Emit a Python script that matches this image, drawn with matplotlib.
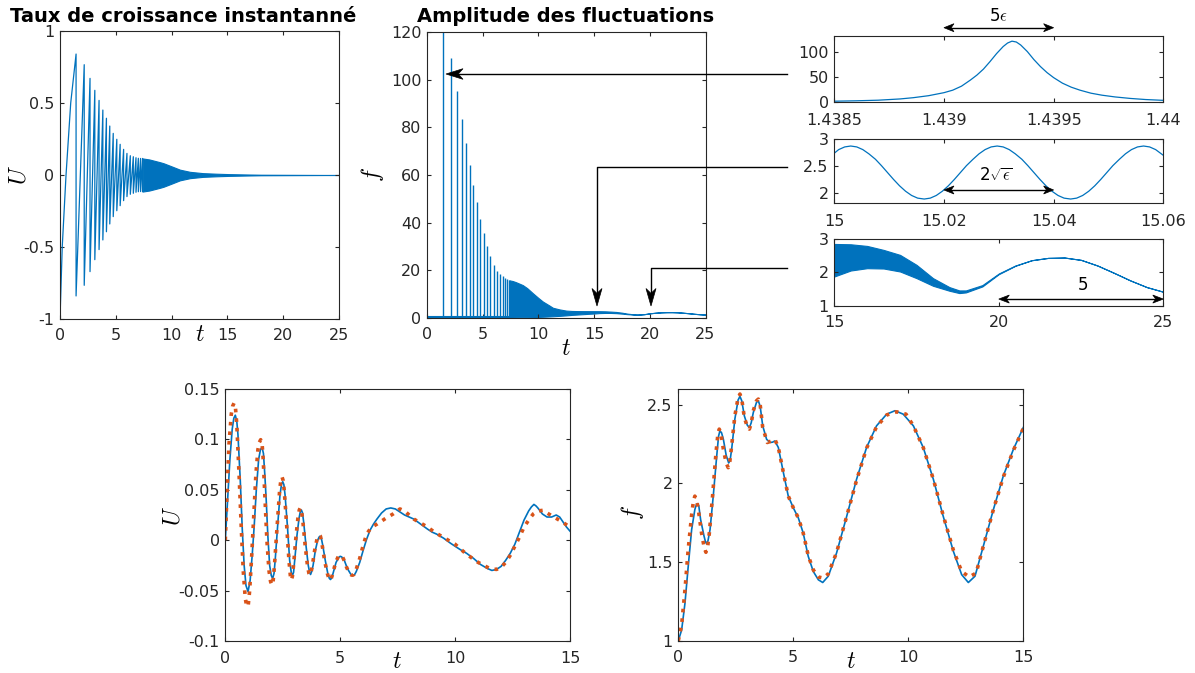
import numpy as np
import matplotlib
matplotlib.use('Agg')
import matplotlib.pyplot as plt
from matplotlib.ticker import FuncFormatter, FixedLocator
from matplotlib.patches import Polygon
from matplotlib.lines import Line2D

plt.rcParams['font.family'] = ['DejaVu Sans']
plt.rcParams['mathtext.fontset'] = 'cm'
plt.rcParams['axes.unicode_minus'] = False

W, H = 1195, 673
BLUE = '#0072BD'
ORANGE = '#D95319'
AXC = '#262626'

# ---------------- data ----------------
# growth rate U: first rise, then sawtooth spikes
u_start_t = [0.0, 0.20, 0.54, 0.96]
u_start_v = [-1.0, -0.5, 0.0, 0.5]
spike_t = [1.44, 2.17, 2.69, 3.12, 3.50, 3.84, 4.16, 4.46, 4.77, 5.09,
           5.39, 5.70, 6.00, 6.30, 6.57, 6.81, 7.02, 7.22, 7.40]
u_amp = [0.840, 0.766, 0.671, 0.588, 0.518, 0.451, 0.394, 0.340, 0.289, 0.248,
         0.213, 0.178, 0.150, 0.134, 0.127, 0.120, 0.116, 0.115, 0.115]
# dense oscillation envelope of U
ub_t = [7.40, 8.0, 9.0, 9.3, 10.0, 10.75, 11.65, 12.8, 14.0, 15.2, 16.5, 18.0, 25.0]
ub_a = [0.115, 0.108, 0.088, 0.081, 0.060, 0.037, 0.022, 0.013, 0.009, 0.006, 0.004, 0.002, 0.0]

# amplitude f: spike heights and floor
f_spike_h = [120.7, 109.0, 95.4, 83.6, 73.4, 64.2, 55.8, 48.5, 41.7, 35.5,
             30.2, 26.0, 22.4, 19.7, 18.5, 17.5, 16.8, 16.2, 15.8]
f_floor_t = [0.0, 7.40]
f_floor_v = [0.3, 0.3]
# dense oscillation envelope of f
env_t = [7.40, 7.70, 8.00, 8.60, 9.00, 9.50, 10.0, 10.4, 11.0, 11.3, 11.9, 12.5, 13.0,
         13.5, 14.0, 14.5, 15.0, 15.5, 16.0, 16.5, 17.0, 17.5, 18.0, 18.5, 18.8, 19.0,
         19.5, 20.0, 20.5, 21.0, 21.5, 22.0, 22.5, 23.0, 23.5, 24.0, 24.5, 25.0]
env_hi = [15.8, 15.5, 15.0, 13.8, 12.5, 10.4, 8.4, 6.9, 5.2, 4.3, 3.6, 3.1, 2.95,
          2.9, 2.88, 2.87, 2.86, 2.85, 2.80, 2.68, 2.53, 2.23, 1.83, 1.56, 1.46, 1.46,
          1.62, 1.97, 2.21, 2.37, 2.44, 2.45, 2.38, 2.21, 1.99, 1.76, 1.56, 1.42]
env_lo = [0.20, 0.22, 0.25, 0.30, 0.33, 0.38, 0.45, 0.52, 0.65, 0.72, 0.90, 1.10, 1.30,
          1.45, 1.60, 1.75, 1.88, 2.06, 2.13, 2.12, 2.03, 1.83, 1.60, 1.45, 1.38, 1.40,
          1.58, 1.95, 2.20, 2.37, 2.44, 2.45, 2.38, 2.21, 1.99, 1.76, 1.56, 1.42]

# zoom 1 : single peak
lz_t = [1.43850, 1.43860, 1.43870, 1.43880, 1.43886, 1.43893, 1.43900, 1.43904,
        1.43908, 1.43912, 1.43915, 1.43918, 1.43921, 1.43924, 1.43927, 1.43929,
        1.43931, 1.43933, 1.43935, 1.43938, 1.43941, 1.43944, 1.43947, 1.43950,
        1.43954, 1.43958, 1.43962, 1.43967, 1.43972, 1.43978, 1.43985, 1.43992, 1.44000]
lz_f = [1.0, 1.8, 3.0, 5.5, 8, 12, 18, 23, 31, 43, 53, 65, 80, 96, 110, 117,
        120.7, 119, 113, 100, 84, 70, 58, 48, 37, 29, 23, 17, 13, 9.5, 6.5, 4.3, 2.7]

# zoom 2 : fast oscillation
sn_t = [15.0000, 15.0008, 15.0019, 15.0030, 15.0041, 15.0052, 15.0063, 15.0075,
        15.0086, 15.0097, 15.0108, 15.0119, 15.0130, 15.0141, 15.0152, 15.0164,
        15.0175, 15.0186, 15.0197, 15.0208, 15.0219, 15.0230, 15.0241, 15.0253,
        15.0264, 15.0275, 15.0286, 15.0297, 15.0308, 15.0319, 15.0330, 15.0342,
        15.0353, 15.0364, 15.0375, 15.0386, 15.0397, 15.0408, 15.0419, 15.0431,
        15.0442, 15.0453, 15.0464, 15.0475, 15.0486, 15.0497, 15.0508, 15.0520,
        15.0531, 15.0542, 15.0553, 15.0564, 15.0575, 15.0586, 15.0600]
sn_f = [2.74, 2.807, 2.857, 2.874, 2.857, 2.807, 2.728, 2.626,
        2.506, 2.377, 2.248, 2.128, 2.026, 1.947, 1.897, 1.880,
        1.897, 1.947, 2.026, 2.128, 2.248, 2.377, 2.506, 2.626,
        2.728, 2.807, 2.857, 2.874, 2.857, 2.807, 2.728, 2.626,
        2.506, 2.377, 2.248, 2.128, 2.026, 1.947, 1.897, 1.880,
        1.897, 1.947, 2.026, 2.128, 2.248, 2.377, 2.506, 2.626,
        2.728, 2.807, 2.857, 2.874, 2.857, 2.807, 2.70]

# bottom left : U, full model (blue) and reduced model (orange)
bu_t = [0.00, 0.10, 0.20, 0.30, 0.37, 0.435, 0.50, 0.55, 0.65, 0.74, 0.82, 0.90, 0.99,
        1.08, 1.17, 1.26, 1.35, 1.45, 1.53, 1.60, 1.66, 1.72, 1.78, 1.85, 1.93, 2.00,
        2.06, 2.12, 2.17, 2.28, 2.38, 2.45, 2.50, 2.55, 2.60, 2.70, 2.80, 2.87, 2.92,
        2.97, 3.02, 3.12, 3.21, 3.27, 3.31, 3.36, 3.41, 3.51, 3.61, 3.67, 3.71, 3.76,
        3.82, 3.92, 4.02, 4.08, 4.12, 4.17, 4.24, 4.35, 4.46, 4.53, 4.58, 4.64, 4.70,
        4.82, 4.94, 5.00, 5.06, 5.12, 5.18, 5.31, 5.44, 5.51, 5.57, 5.63, 5.70, 5.85,
        6.00, 6.15, 6.30, 6.45, 6.60, 6.80, 7.00, 7.20, 7.40, 7.60, 7.80, 8.00, 8.20,
        8.50, 8.80, 9.00, 9.20, 9.50, 9.80, 10.2, 10.5, 10.8, 11.1, 11.4, 11.6, 11.8,
        12.0, 12.2, 12.4, 12.6, 12.8, 13.0, 13.2, 13.32, 13.43, 13.52, 13.6, 13.8,
        14.0, 14.2, 14.4, 14.55, 14.7, 14.85, 15.0]
bu_v = [0.000, 0.040, 0.080, 0.110, 0.121, 0.124, 0.118, 0.105, 0.060, 0.010, -0.025,
        -0.045, -0.051, -0.040, -0.015, 0.015, 0.050, 0.080, 0.090, 0.092, 0.086, 0.065,
        0.040, 0.005, -0.025, -0.035, -0.038, -0.033, -0.020, 0.015, 0.045, 0.056, 0.058,
        0.055, 0.045, 0.015, -0.020, -0.032, -0.035, -0.032, -0.020, 0.005, 0.022, 0.029,
        0.030, 0.027, 0.018, -0.005, -0.025, -0.032, -0.034, -0.031, -0.025, -0.010,
        0.000, 0.003, 0.004, 0.003, -0.005, -0.020, -0.033, -0.038, -0.039, -0.037,
        -0.032, -0.022, -0.017, -0.016, -0.0165, -0.018, -0.020, -0.028, -0.033, -0.035,
        -0.035, -0.034, -0.031, -0.022, -0.010, 0.001, 0.010, 0.016, 0.021, 0.027, 0.031,
        0.032, 0.031, 0.028, 0.025, 0.023, 0.021, 0.016, 0.011, 0.008, 0.006, 0.002,
        -0.003, -0.009, -0.013, -0.018, -0.024, -0.028, -0.030, -0.029, -0.026, -0.020,
        -0.013, -0.004, 0.008, 0.020, 0.029, 0.033, 0.0355, 0.034, 0.032, 0.026, 0.023,
        0.023, 0.025, 0.023, 0.018, 0.013, 0.009]
ru_t = [0.00, 0.08, 0.16, 0.26, 0.32, 0.38, 0.44, 0.50, 0.60, 0.70, 0.78, 0.87, 0.92,
        0.96, 1.00, 1.06, 1.15, 1.24, 1.33, 1.42, 1.48, 1.54, 1.60, 1.65, 1.73, 1.81,
        1.90, 1.97, 2.03, 2.08, 2.14, 2.25, 2.36, 2.42, 2.47, 2.52, 2.57, 2.67, 2.77,
        2.83, 2.87, 2.92, 2.97, 3.07, 3.16, 3.22, 3.26, 3.31, 3.37, 3.47, 3.58, 3.64,
        3.68, 3.73, 3.79, 3.89, 3.99, 4.05, 4.09, 4.14, 4.21, 4.32, 4.44, 4.51, 4.56,
        4.61, 4.68, 4.80, 4.92, 4.98, 5.03, 5.09, 5.15, 5.28, 5.41, 5.48, 5.54, 5.60,
        5.68, 5.85, 6.00, 6.15, 6.30, 6.45, 6.60, 6.80, 7.00, 7.30, 7.60, 7.80, 8.00,
        8.20, 8.50, 8.80, 9.10, 9.40, 9.70, 10.0, 10.5, 11.0, 11.5, 11.8, 12.0, 12.2,
        12.4, 12.6, 12.8, 13.0, 13.2, 13.4, 13.6, 13.84, 14.0, 14.3, 14.6, 15.0]
ru_v = [0.000, 0.050, 0.095, 0.125, 0.133, 0.136, 0.132, 0.115, 0.065, 0.010, -0.030,
        -0.058, -0.064, -0.066, -0.064, -0.050, -0.015, 0.025, 0.065, 0.090, 0.097,
        0.0997, 0.096, 0.080, 0.040, 0.000, -0.030, -0.041, -0.0446, -0.041, -0.025,
        0.012, 0.048, 0.060, 0.0627, 0.059, 0.048, 0.015, -0.020, -0.035, -0.0396, -0.036,
        -0.025, 0.002, 0.022, 0.030, 0.032, 0.030, 0.020, -0.004, -0.026, -0.033, -0.0347,
        -0.032, -0.025, -0.010, 0.001, 0.004, 0.005, 0.004, -0.004, -0.020, -0.033,
        -0.038, -0.0396, -0.038, -0.033, -0.022, -0.016, -0.015, -0.0155, -0.016, -0.019,
        -0.027, -0.033, -0.0345, -0.0347, -0.034, -0.030, -0.018, -0.005, 0.006, 0.011,
        0.014, 0.016, 0.019, 0.022, 0.026, 0.031, 0.029, 0.025, 0.021, 0.017, 0.013,
        0.008, 0.004, 0.000, -0.004, -0.014, -0.022, -0.028, -0.029, -0.027, -0.022,
        -0.015, -0.006, 0.003, 0.013, 0.020, 0.026, 0.029, 0.0297, 0.027, 0.023, 0.019,
        0.013]

# bottom right : f, full model (blue) and reduced model (orange)
bf_t = [0.00, 0.145, 0.29, 0.43, 0.58, 0.72, 0.78, 0.83, 0.89, 0.97, 1.12, 1.18, 1.23,
        1.29, 1.38, 1.52, 1.67, 1.75, 1.81, 1.88, 1.96, 2.08, 2.19, 2.25, 2.32, 2.46,
        2.60, 2.68, 2.76, 2.87, 3.00, 3.09, 3.17, 3.26, 3.40, 3.48, 3.56, 3.67, 3.84,
        3.99, 4.10, 4.20, 4.35, 4.57, 4.78, 5.00, 5.22, 5.43, 5.65, 5.87, 6.09, 6.28,
        6.52, 6.88, 7.32, 7.75, 8.19, 8.62, 9.06, 9.42, 9.78, 10.22, 10.65, 11.09, 11.52,
        11.96, 12.32, 12.61, 12.90, 13.26, 13.70, 14.13, 14.57, 15.0]
bf_v = [1.000, 1.068, 1.238, 1.470, 1.706, 1.834, 1.862, 1.872, 1.858, 1.770, 1.664,
        1.630, 1.617, 1.635, 1.706, 1.920, 2.174, 2.300, 2.334, 2.322, 2.280, 2.180,
        2.130, 2.145, 2.217, 2.410, 2.530, 2.553, 2.525, 2.430, 2.370, 2.355, 2.385,
        2.450, 2.515, 2.525, 2.490, 2.366, 2.280, 2.260, 2.262, 2.270, 2.228, 2.068,
        1.920, 1.845, 1.780, 1.685, 1.536, 1.440, 1.387, 1.370, 1.410, 1.557, 1.790,
        2.026, 2.230, 2.366, 2.440, 2.462, 2.440, 2.366, 2.228, 2.026, 1.790, 1.568,
        1.420, 1.370, 1.410, 1.600, 1.834, 2.047, 2.217, 2.355]
rf_t = [0.00, 0.145, 0.29, 0.43, 0.58, 0.66, 0.72, 0.79, 0.87, 1.01, 1.13, 1.20, 1.27,
        1.35, 1.49, 1.64, 1.72, 1.78, 1.85, 1.96, 2.08, 2.17, 2.24, 2.32, 2.46, 2.60,
        2.68, 2.76, 2.87, 3.00, 3.09, 3.17, 3.26, 3.40, 3.48, 3.56, 3.67, 3.87, 4.06,
        4.20, 4.35, 4.57, 4.78, 5.00, 5.22, 5.43, 5.65, 5.87, 6.09, 6.30, 6.52, 6.88,
        7.32, 7.75, 8.19, 8.62, 9.06, 9.50, 9.90, 10.22, 10.65, 11.09, 11.52, 11.96,
        12.32, 12.65, 12.95, 13.26, 13.70, 14.13, 14.57, 15.0]
rf_v = [1.000, 1.100, 1.323, 1.579, 1.800, 1.890, 1.919, 1.900, 1.834, 1.685, 1.590,
        1.562, 1.590, 1.685, 1.919, 2.196, 2.310, 2.345, 2.320, 2.217, 2.130, 2.100,
        2.140, 2.238, 2.430, 2.545, 2.568, 2.535, 2.420, 2.360, 2.345, 2.380, 2.462,
        2.525, 2.536, 2.500, 2.355, 2.260, 2.270, 2.280, 2.228, 2.068, 1.920, 1.845,
        1.780, 1.685, 1.540, 1.450, 1.405, 1.398, 1.425, 1.560, 1.790, 2.020, 2.225,
        2.360, 2.435, 2.455, 2.440, 2.366, 2.228, 2.026, 1.795, 1.575, 1.440, 1.405,
        1.430, 1.600, 1.834, 2.040, 2.210, 2.350]

# ---------------- figure ----------------
fig = plt.figure(figsize=(W / 100, H / 100), dpi=100)
fmt = FuncFormatter(lambda v, p: f'{v:g}')


def add_ax(l, r, t, b, xpad=6.5):
    ax = fig.add_axes([l / W, 1 - b / H, (r - l) / W, (b - t) / H])
    ax.tick_params(direction='in', top=True, right=True, length=3, width=0.8,
                   colors=AXC, labelsize=11.5, pad=4)
    ax.tick_params(axis='x', pad=xpad)
    for s in ax.spines.values():
        s.set_color(AXC)
        s.set_linewidth(0.8)
    ax.xaxis.set_major_formatter(fmt)
    ax.yaxis.set_major_formatter(fmt)
    return ax


def P(x, y):
    return (x / W, 1 - y / H)


def ftext(x, y, s, **kw):
    fig.text(x / W, 1 - y / H, s, ha='center', va='center', color='black', **kw)


def head(tip, d, L, w):
    """filled arrow head with notched back, pixel coords (y down)."""
    tx, ty = tip
    dx, dy = d
    nx, ny = -dy, dx
    bx, by = tx - L * dx, ty - L * dy
    pts = [P(tx, ty), P(bx + w * nx, by + w * ny),
           P(tx - 0.72 * L * dx, ty - 0.72 * L * dy), P(bx - w * nx, by - w * ny)]
    fig.add_artist(Polygon(pts, closed=True, transform=fig.transFigure,
                           facecolor='black', edgecolor='black', lw=0.5))
    return (tx - 0.72 * L * dx, ty - 0.72 * L * dy)


def fline(xs, ys):
    fig.add_artist(Line2D([x / W for x in xs], [1 - y / H for y in ys],
                          transform=fig.transFigure, color='black', lw=1))


def dpix(ax, x, y):
    X, Y = ax.transData.transform((x, y))
    return X, H - Y


def double_arrow(p0, p1, L=10, w=4):
    (x0, y0), (x1, y1) = p0, p1
    n = np.hypot(x1 - x0, y1 - y0)
    d = ((x1 - x0) / n, (y1 - y0) / n)
    a = head((x1, y1), d, L, w)
    b = head((x0, y0), (-d[0], -d[1]), L, w)
    fline([b[0], a[0]], [b[1], a[1]])


LBL = 17

# top left : U
ax1 = add_ax(60, 339, 31, 319)
ux = list(u_start_t)
uy = list(u_start_v)
for t, a in zip(spike_t, u_amp):
    ux += [t, t]
    uy += [a, -a]
ax1.plot(ux, uy, color=BLUE, lw=0.9)
ax1.fill_between(ub_t, [-a for a in ub_a], ub_a, facecolor=BLUE, edgecolor=BLUE, lw=0.8)
ax1.set_xlim(0, 25)
ax1.set_ylim(-1, 1)
ax1.xaxis.set_major_locator(FixedLocator([0, 5, 10, 15, 20, 25]))
ax1.yaxis.set_major_locator(FixedLocator([-1, -0.5, 0, 0.5, 1]))
ftext(183, 16, 'Taux de croissance instantanné', fontsize=14, fontweight='bold')
ftext(200, 334, r'$t$', fontsize=LBL)
ftext(18, 175, r'$U$', fontsize=LBL, rotation=90)

# top middle : f
ax2 = add_ax(427, 705.5, 32, 318)
ax2.plot(f_floor_t, f_floor_v, color=BLUE, lw=1.5)
ax2.vlines(spike_t, f_floor_v[0], f_spike_h, color=BLUE, lw=1.0)
ax2.fill_between(env_t, env_lo, env_hi, facecolor=BLUE, edgecolor=BLUE, lw=0.8)
ax2.set_xlim(0, 25)
ax2.set_ylim(0, 120)
ax2.xaxis.set_major_locator(FixedLocator([0, 5, 10, 15, 20, 25]))
ax2.yaxis.set_major_locator(FixedLocator([0, 20, 40, 60, 80, 100, 120]))
ftext(566, 16, 'Amplitude des fluctuations', fontsize=14, fontweight='bold')
ftext(566, 348, r'$t$', fontsize=LBL)
ftext(373, 175, r'$f$', fontsize=LBL, rotation=90)

# top right 1
ax3 = add_ax(834.3, 1163.3, 36, 101.7, xpad=8)
ax3.plot(lz_t, lz_f, color=BLUE, lw=0.9)
ax3.set_xlim(1.4385, 1.44)
ax3.set_ylim(0, 131)
ax3.xaxis.set_major_locator(FixedLocator([1.4385, 1.439, 1.4395, 1.44]))
ax3.yaxis.set_major_locator(FixedLocator([0, 50, 100]))
ax3.text(1.43925, 1.31, r'5$\epsilon$', transform=ax3.get_xaxis_transform(),
         ha='center', va='center', fontsize=12)

# top right 2
ax4 = add_ax(834.3, 1163.3, 139.3, 203.3, xpad=7.5)
ax4.plot(sn_t, sn_f, color=BLUE, lw=0.9)
ax4.set_xlim(15, 15.06)
ax4.set_ylim(1.8, 3)
ax4.xaxis.set_major_locator(FixedLocator([15, 15.02, 15.04, 15.06]))
ax4.yaxis.set_major_locator(FixedLocator([2, 2.5, 3]))
ax4.text(15.0295, 2.34, r'2$\sqrt{\epsilon}$', ha='center', va='center', fontsize=12)

# top right 3
ax5 = add_ax(834.3, 1163.3, 239.3, 305.7, xpad=7)
ax5.fill_between(env_t, env_lo, env_hi, facecolor=BLUE, edgecolor=BLUE, lw=0.8)
ax5.set_xlim(15, 25)
ax5.set_ylim(1, 3)
ax5.xaxis.set_major_locator(FixedLocator([15, 20, 25]))
ax5.yaxis.set_major_locator(FixedLocator([1, 2, 3]))
ax5.text(22.55, 1.63, '5', ha='center', va='center', fontsize=12)

# bottom left
ax6 = add_ax(225.3, 570, 389, 641, xpad=7)
ax6.plot(bu_t, bu_v, color=BLUE, lw=1.2)
ax6.plot(ru_t, ru_v, color=ORANGE, lw=2.6, ls=':')
ax6.set_xlim(0, 15)
ax6.set_ylim(-0.1, 0.15)
ax6.xaxis.set_major_locator(FixedLocator([0, 5, 10, 15]))
ax6.yaxis.set_major_locator(FixedLocator([-0.1, -0.05, 0, 0.05, 0.1, 0.15]))
ftext(397, 661, r'$t$', fontsize=LBL)
ftext(172, 516, r'$U$', fontsize=LBL, rotation=90)

# bottom right
ax7 = add_ax(678.3, 1023.3, 389, 640.7, xpad=7)
ax7.plot(bf_t, bf_v, color=BLUE, lw=1.2)
ax7.plot(rf_t, rf_v, color=ORANGE, lw=2.6, ls=':')
ax7.set_xlim(0, 15)
ax7.set_ylim(1, 2.6)
ax7.xaxis.set_major_locator(FixedLocator([0, 5, 10, 15]))
ax7.yaxis.set_major_locator(FixedLocator([1, 1.5, 2, 2.5]))
ftext(851, 661, r'$t$', fontsize=LBL)
ftext(633, 512, r'$f$', fontsize=LBL, rotation=90)

# double arrows (annotations inside the zoom panels)
xa, _ = dpix(ax3, 1.439, 0)
xb, _ = dpix(ax3, 1.4395, 0)
double_arrow((xa, 27.7), (xb, 27.7))
double_arrow(dpix(ax4, 15.02, 2.05), dpix(ax4, 15.04, 2.05))
double_arrow(dpix(ax5, 20, 1.2), dpix(ax5, 25, 1.2), L=10.5, w=4)

# connecting arrows (figure level)
n = head((446, 74), (-1, 0), 17, 5.3)
fline([787, n[0]], [74, n[1]])
for (xs, yh) in [(597, 167), (651, 268)]:
    n = head((xs, 306), (0, 1), 17.5, 5.0)
    fline([787, xs, n[0]], [yh, yh, n[1]])

fig.savefig('out.png', dpi=100)
